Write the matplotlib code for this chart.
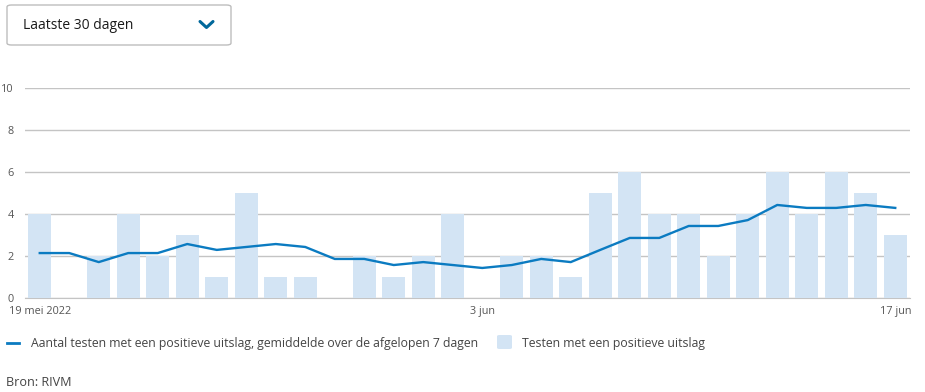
import numpy as np
import matplotlib.pyplot as plt
from matplotlib.patches import FancyBboxPatch
from matplotlib.lines import Line2D

# daily positive tests, 19 mei 2022 .. 17 jun 2022
positives = [4, 0, 2, 4, 2, 3, 1, 5, 1, 1,
             0, 2, 1, 2, 4, 0, 2, 2, 1, 5,
             6, 4, 4, 2, 4, 6, 4, 6, 5, 3]
# 7-day average
avg_7d = [2.14, 2.14, 1.71, 2.14, 2.14, 2.57, 2.29, 2.43, 2.57, 2.43,
          1.86, 1.86, 1.57, 1.71, 1.57, 1.43, 1.57, 1.86, 1.71, 2.29,
          2.86, 2.86, 3.43, 3.43, 3.71, 4.43, 4.29, 4.29, 4.43, 4.29]
tick_days = [0, 15, 29]
tick_labels = ["19 mei 2022", "3 jun", "17 jun"]
y_ticks = [0, 2, 4, 6, 8, 10]

W, H = 925, 392
line_col = "#0b7bc1"
bar_col = "#d3e4f4"
grid_col = "#c4c4c4"
txt_col = "#555555"
font = "Open Sans"

plt.rcParams['font.family'] = [font, 'DejaVu Sans']

fig = plt.figure(figsize=(W / 100, H / 100), dpi=100)
ax = fig.add_axes([25 / W, 94 / H, 885 / W, 210 / H])

x = np.arange(len(positives))
ax.bar(x, positives, width=0.78, color=bar_col, zorder=2)
ax.plot(x, avg_7d, color=line_col, lw=1.7, zorder=3)

ax.set_xlim(-0.5, 29.5)
ax.set_ylim(0, 10)
ax.set_yticks(y_ticks)
ax.set_yticklabels([str(v) for v in y_ticks])
ax.set_xticks(tick_days)
ax.set_xticklabels(tick_labels)
ax.tick_params(axis='both', length=0, labelsize=7.8, colors=txt_col)
ax.tick_params(axis='y', pad=8)
ax.tick_params(axis='x', pad=6)
ax.grid(axis='y', color=grid_col, lw=1, zorder=1)
for s in ['top', 'right', 'left']:
    ax.spines[s].set_visible(False)
ax.spines['bottom'].set_color(grid_col)
ax.spines['bottom'].set_zorder(1)


def fx(px):
    return px / W


def fy(py):
    return 1 - py / H


# dropdown box
box = FancyBboxPatch((fx(7), fy(45)), fx(224), 40 / H,
                     boxstyle="round,pad=0,rounding_size=0.005",
                     transform=fig.transFigure, facecolor="white",
                     edgecolor="#bdbdbd", lw=1)
fig.add_artist(box)
fig.text(fx(23), fy(29), "Laatste 30 dagen", fontsize=10, color="#1a1a1a",
         va='baseline', ha='left')
fig.add_artist(Line2D([fx(200), fx(206.5), fx(213)], [fy(21.5), fy(27.5), fy(21.5)],
                      transform=fig.transFigure, color="#01689b", lw=2.2,
                      solid_capstyle='round', solid_joinstyle='round'))

# legend
fig.add_artist(Line2D([fx(7), fx(19)], [fy(342.5), fy(342.5)],
                      transform=fig.transFigure, color=line_col, lw=2))
fig.text(fx(31), fy(347.5), "Aantal testen met een positieve uitslag, gemiddelde over de afgelopen 7 dagen",
         fontsize=8.85, color="#444444", va='baseline', ha='left')
fig.add_artist(FancyBboxPatch((fx(497), fy(349)), fx(15), 14 / H,
                              boxstyle="round,pad=0,rounding_size=0.003",
                              transform=fig.transFigure, facecolor=bar_col,
                              edgecolor='none'))
fig.text(fx(522), fy(347.5), "Testen met een positieve uitslag",
         fontsize=8.85, color="#444444", va='baseline', ha='left')

fig.text(fx(6), fy(386), "Bron: RIVM", fontsize=9.1, color="#444444",
         va='baseline', ha='left')

fig.savefig("out.png", dpi=100)
